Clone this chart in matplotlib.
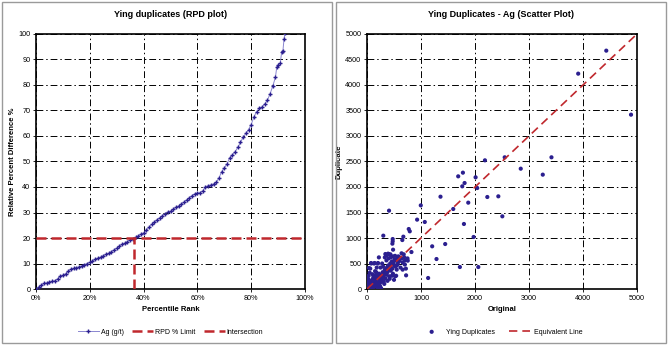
import numpy as np
import matplotlib.pyplot as plt
from matplotlib.patches import Rectangle
from matplotlib.ticker import PercentFormatter

plt.rcParams['font.family'] = ['Liberation Sans', 'DejaVu Sans']

# RPD curve (percentile rank %, relative percent difference %)
pct_rank = [0, 1, 2, 3, 4, 5, 6, 7, 8, 9, 10, 11, 12, 13, 14, 15, 16, 17, 18, 19,
            20, 21, 22, 23, 24, 25, 26, 27, 28, 29, 30, 31, 32, 33, 34, 35, 36, 37, 38, 39,
            40, 41, 42, 43, 44, 45, 46, 47, 48, 49, 50, 51, 52, 53, 54, 55, 56, 57, 58, 59,
            60, 61, 62, 63, 64, 65, 66, 67, 68, 69, 70, 71, 72, 73, 74, 75, 76, 77, 78, 79,
            80, 81, 82, 83, 84, 85, 86, 87, 88, 89, 89.5, 90, 90.8, 91.3, 91.8, 92.2, 92.6]
rpd = [0, 0.8, 1.5, 2.2, 2.4, 2.7, 3.0, 3.2, 4.0, 5.0, 5.4, 6.0, 7.0, 7.8, 8.1, 8.4, 8.7, 9.1, 9.5, 10.0,
       10.4, 11.0, 11.6, 12.1, 12.5, 13.0, 13.6, 14.0, 14.6, 15.3, 16.0, 16.8, 17.5, 18.0, 18.6, 19.2, 19.7, 20.3, 20.8, 21.5,
       22.0, 23.0, 24.2, 25.3, 26.2, 27.2, 28.0, 28.8, 29.6, 30.2, 30.5, 31.2, 32.0, 32.6, 33.3, 34.0, 35.0, 35.8, 36.6, 37.3,
       37.5, 37.8, 38.5, 40.0, 40.5, 40.8, 41.2, 41.8, 43.5, 46.0, 47.5, 49.0, 51.5, 52.5, 53.8, 55.5, 57.5, 59.5, 61.0, 62.5,
       64.5, 67.5, 69.5, 71.0, 71.3, 72.5, 74.0, 76.5, 79.5, 83.0, 87.0, 88.0, 88.5, 92.8, 93.5, 98.0, 100.5]
rpd_limit = 20
intersect_pct = 36.6

# Original vs duplicate Ag assays (g/t)
original = [4431, 3911, 4889, 3416, 3255, 2847, 2550, 2184, 2432, 2506, 2228, 2042, 2011, 1807, 1776,
            1764, 1689, 1875, 1795, 1974, 2061, 1720, 1597, 1361, 1448, 1207, 1287, 1132, 996, 928,
            1070, 792, 773, 823, 724, 755, 408, 302, 673, 654, 476, 476, 470, 483, 377, 340, 402,
            359, 390, 433, 37, 74, 142, 204,
            10, 15, 20, 25, 30, 35, 40, 45, 50, 55, 60, 65, 70, 75, 80, 85, 90, 95, 100, 105,
            110, 115, 120, 125, 130, 135, 140, 145, 150, 155, 160, 165, 170, 175, 180, 185, 190, 195,
            200, 205, 210, 215, 220, 225, 230, 240, 250, 260, 270, 280, 290, 300, 310, 320, 330, 340,
            350, 360, 370, 380, 390, 400, 410, 420, 430, 440, 450, 460, 470, 480, 490, 500, 510, 520,
            530, 540, 550, 560, 570, 580, 600, 620, 640, 660, 680, 700, 720, 750,
            60, 80, 130, 200, 220, 30, 50, 100, 150, 180, 250, 300, 240, 320, 380, 420, 460, 500, 540,
            120, 170, 200, 230, 10, 20, 5, 40, 330, 360, 280, 400, 440, 480, 520, 560, 600, 640, 690,
            660, 700,
            8, 18, 28, 38, 48, 58, 68, 78, 88, 98, 108, 118, 128, 138, 148, 158, 168, 178, 188, 198,
            12, 32, 52, 72, 92, 112, 132, 152, 172, 192, 212, 232, 252, 272]
duplicate = [4673, 4222, 3418, 2582, 2242, 2359, 2582, 2523, 1817, 1425, 1804, 1980, 2190, 2078, 2281,
             2013, 2209, 1693, 1275, 1020, 431, 431, 1569, 1810, 882, 837, 588, 216, 1640, 1360,
             1314, 1131, 1176, 725, 268, 556, 1536, 1046, 1026, 960, 980, 935, 889, 771, 673, 686, 686,
             660, 693, 680, 412, 510, 510, 510,
             5, 20, 10, 40, 15, 60, 30, 80, 20, 100, 50, 130, 40, 90, 150, 60, 110, 180, 70, 130,
             200, 90, 160, 40, 220, 110, 170, 250, 80, 190, 130, 280, 60, 210, 150, 100, 240, 30,
             170, 260, 120, 200, 80, 300, 180, 140, 230, 20, 270, 190, 330, 250, 150, 300, 380, 210,
             350, 280, 420, 330, 460, 380, 250, 430, 500, 360, 470, 540, 400, 300, 520, 470, 580, 250,
             440, 560, 380, 600, 500, 640, 550, 420, 600, 520, 680, 560, 400, 600,
             400, 500, 500, 500, 620, 260, 320, 290, 350, 420, 420, 440, 60, 100, 160, 200, 260, 180, 260,
             240, 330, 90, 30, 120, 200, 60, 160, 620, 560, 500, 600, 620, 640, 650, 470, 620, 700, 620,
             380, 480,
             25, 12, 55, 30, 70, 45, 95, 60, 120, 85, 140, 65, 110, 175, 95, 145, 120, 190, 150, 210,
             50, 75, 15, 110, 35, 140, 90, 60, 125, 85, 160, 110, 195, 140]

navy = '#2b1f8f'
red = '#c0282d'
grid_style = dict(color='black', linestyle=(0, (7, 3, 1.5, 3)), linewidth=0.7)

fig = plt.figure(figsize=(6.68, 3.47), dpi=100)

# panel frames
for x0 in (0.003, 0.503):
    fig.patches.append(Rectangle((x0, 0.0115), 0.494, 0.983, transform=fig.transFigure,
                                 fill=False, edgecolor='#9a9a9a', linewidth=1.0))

ax1 = fig.add_axes([0.0539, 0.1671, 0.4027, 0.735])
ax2 = fig.add_axes([0.5494, 0.1671, 0.4042, 0.735])

# --- RPD plot ---
ax1.plot(np.array(pct_rank) / 100, rpd, color='#8a86d0', linewidth=0.7,
         marker='+', markersize=3, markeredgecolor=navy, markeredgewidth=1.0,
         label='Ag (g/t)', zorder=3)
ax1.plot([0, 1], [rpd_limit, rpd_limit], color=red, linewidth=1.8,
         linestyle=(0, (4, 2)), label='RPD % Limit', zorder=4)
ax1.plot([intersect_pct / 100, intersect_pct / 100], [0, rpd_limit], color=red, linewidth=1.8,
         linestyle=(0, (4, 2)), label='Intersection', zorder=4)
ax1.set_xlim(0, 1)
ax1.set_ylim(0, 100)
ax1.set_xticks(np.arange(0, 1.01, 0.2))
ax1.set_yticks(np.arange(0, 101, 10))
ax1.xaxis.set_major_formatter(PercentFormatter(1.0, decimals=0))
ax1.grid(True, **grid_style)
ax1.set_xlabel('Percentile Rank', fontsize=5.5, fontweight='bold', labelpad=3)
ax1.set_ylabel('Relative Percent Difference %', fontsize=5.5, fontweight='bold', labelpad=2)
fig.text(0.255, 0.957, 'Ying duplicates (RPD plot)', ha='center', va='center',
         fontsize=6.5, fontweight='bold')
ax1.legend(loc='center', bbox_to_anchor=(0.5, -0.169), ncol=3, frameon=False,
           fontsize=5, handlelength=3.0, columnspacing=1.2, handletextpad=0.3)

# --- scatter plot ---
ax2.scatter(original, duplicate, s=9, color=navy, edgecolors='none',
            label='Ying Duplicates', zorder=3)
ax2.plot([0, 5000], [0, 5000], color=red, linewidth=1.2,
         linestyle=(0, (5, 3)), label='Equivalent Line', zorder=4)
ax2.set_xlim(0, 5000)
ax2.set_ylim(0, 5000)
ax2.set_xticks(np.arange(0, 5001, 1000))
ax2.set_yticks(np.arange(0, 5001, 500))
ax2.grid(True, **grid_style)
ax2.set_xlabel('Original', fontsize=5.5, fontweight='bold', labelpad=3)
ax2.set_ylabel('Duplicate', fontsize=5.5, fontweight='bold', labelpad=2)
fig.text(0.75, 0.957, 'Ying Duplicates - Ag (Scatter Plot)', ha='center', va='center',
         fontsize=6.5, fontweight='bold')
ax2.legend(loc='center', bbox_to_anchor=(0.5, -0.169), ncol=2, frameon=False,
           fontsize=5, handlelength=3.0, columnspacing=2.0, handletextpad=0.6)

for ax in (ax1, ax2):
    ax.set_axisbelow(True)
    ax.tick_params(labelsize=5.2, length=2, width=0.6, pad=2)
    for s in ax.spines.values():
        s.set_linewidth(1.2)

fig.savefig('out.png', dpi=100)
